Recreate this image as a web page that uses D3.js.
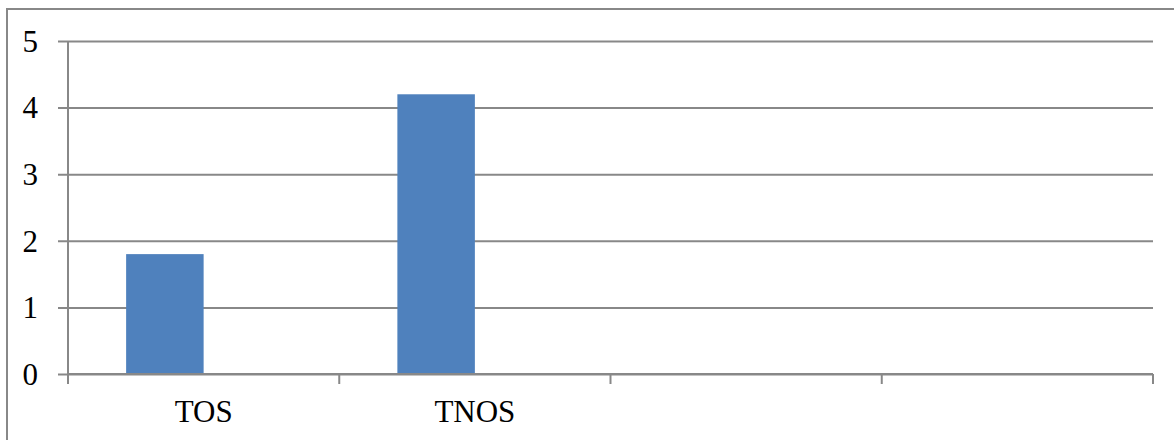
<!DOCTYPE html>
<html>
  <head>
    <meta charset="utf-8" />
    <script src="https://d3js.org/d3.v7.min.js"></script>
    <title>TOS / TNOS</title>
    <style>
      body { margin: 0; background: #fff; }
      .axis path, .axis line { stroke: #888; stroke-width: 2px; }
    </style>
  </head>
  <body>
    <svg id="chart" width="1174" height="440"></svg>
    <script>
      // data
      var categories = ["TOS", "TNOS", "", ""];
      var seriesNames = ["s1", "s2"];
      var series1 = [1.8, 4.2, null, null];
      var series2 = [null, null, null, null];
      var yTicks = [0, 1, 2, 3, 4, 5];

      var svg = d3.select("#chart");
      var mLeft = 68, mRight = 1153, mTop = 41, mBottom = 374;
      var serif = "'Liberation Serif', 'DejaVu Serif', serif";

      // outer frame (only top and left edges show in the picture)
      svg.append("rect")
        .attr("x", 7).attr("y", 9)
        .attr("width", 1200).attr("height", 500)
        .attr("fill", "none").attr("stroke", "#888").attr("stroke-width", 2);

      var x = d3.scaleBand()
        .domain(d3.range(categories.length))
        .range([mLeft, mRight])
        .padding(0);

      var inner = d3.scaleBand()
        .domain(seriesNames)
        .range([0, x.bandwidth()])
        .paddingInner(0)
        .paddingOuter(0.75);

      var y = d3.scaleLinear().domain([0, 5]).range([mBottom, mTop]);

      // y axis with gridlines
      var yAxis = svg.append("g")
        .attr("class", "axis")
        .attr("transform", "translate(" + mLeft + ",0)")
        .call(d3.axisLeft(y).tickValues(yTicks).tickFormat(d3.format("d"))
          .tickSize(10).tickPadding(20));
      yAxis.select(".domain").remove();
      yAxis.selectAll(".tick line").attr("x1", -10).attr("x2", mRight - mLeft);
      yAxis.selectAll("text").attr("dy", "0.33em");

      // vertical axis line
      svg.append("line")
        .attr("x1", mLeft).attr("x2", mLeft)
        .attr("y1", mTop).attr("y2", mBottom + 10)
        .attr("stroke", "#888").attr("stroke-width", 2);

      // bars
      var rows = categories.map(function(c, i) {
        return { i: i, values: [series1[i], series2[i]] };
      });
      svg.append("g").selectAll("g")
        .data(rows)
        .join("g")
        .attr("transform", function(d) { return "translate(" + x(d.i) + ",0)"; })
        .selectAll("rect")
        .data(function(d) {
          return d.values.map(function(v, k) { return { key: seriesNames[k], value: v }; })
            .filter(function(e) { return e.value != null; });
        })
        .join("rect")
        .attr("x", function(d) { return inner(d.key); })
        .attr("width", inner.bandwidth())
        .attr("y", function(d) { return y(d.value); })
        .attr("height", function(d) { return y(0) - y(d.value); })
        .attr("fill", "#4F81BD");

      // x axis with ticks at category boundaries
      var xAxis = svg.append("g")
        .attr("class", "axis")
        .attr("transform", "translate(0," + mBottom + ")")
        .call(d3.axisBottom(x).tickSize(0).tickPadding(26)
          .tickFormat(function(i) { return categories[i]; }));
      xAxis.select(".domain").remove();
      xAxis.selectAll(".tick line").remove();

      xAxis.append("line")
        .attr("x1", mLeft).attr("x2", mRight)
        .attr("stroke", "#888").attr("stroke-width", 2);

      var bounds = d3.range(categories.length + 1).map(function(i) {
        return i < categories.length ? x(i) : mRight;
      });
      xAxis.selectAll(".bound")
        .data(bounds)
        .join("line")
        .attr("class", "bound")
        .attr("x1", function(d) { return d; })
        .attr("x2", function(d) { return d; })
        .attr("y1", 0).attr("y2", 10);

      svg.selectAll(".axis").attr("font-family", serif).attr("font-size", 31);
      svg.selectAll(".axis text").attr("fill", "#000");
    </script>
  </body>
</html>
